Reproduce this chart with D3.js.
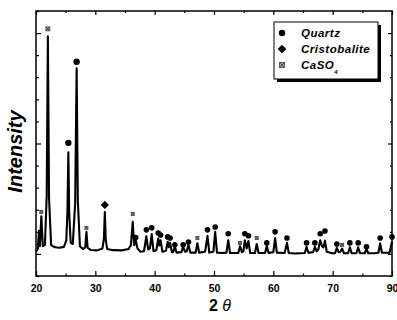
<!DOCTYPE html>
<html>
<head>
<meta charset="utf-8">
<script src="https://cdn.jsdelivr.net/npm/d3@7"></script>
<style>
  html, body { margin: 0; padding: 0; background: #fff; }
  svg { display: block; }
</style>
</head>
<body>
<div id="chart"></div>
<script>
// x axis (2 theta) ticks as printed on the figure
const xTicks = [20, 30, 40, 50, 60, 70, 80];
const xTickLabels = ['20', '30', '40', '50', '60', '70', '90'];
const xMinorTicks = [25, 35, 45, 55, 65, 75];
const yMajorTicks = [0, 500, 1000];
const yMinorTicks = [-100, 100, 200, 300, 400, 600, 700, 800, 900, 1100];

// diffraction pattern: [2theta, intensity]
const pattern = [
  [20.0, 12], [20.3, 22], [20.5, 105], [20.65, 35], [20.9, 170], [21.15, 35], [21.5, 40],
  [21.8, 260], [22.0, 985], [22.2, 250], [22.55, 40], [23.2, 30], [24.0, 28], [24.7, 32],
  [25.1, 60], [25.3, 190], [25.45, 460], [25.6, 180], [25.85, 50], [26.2, 45], [26.6, 230],
  [26.85, 840], [27.05, 240], [27.4, 35], [27.9, 22], [28.3, 30], [28.5, 100], [28.7, 28],
  [29.2, 18], [30.3, 16], [31.2, 25], [31.45, 70], [31.6, 190], [31.75, 65], [32.0, 22],
  [33.0, 17], [34.5, 16], [35.6, 22], [36.0, 40], [36.3, 145], [36.55, 40], [36.8, 62],
  [37.1, 25], [37.6, 10], [38.2, 12], [38.6, 80], [38.9, 20], [39.2, 25], [39.5, 90],
  [39.8, 12], [40.3, 18], [40.6, 70], [40.8, 38], [41.0, 62], [41.3, 10], [41.9, 14],
  [42.2, 55], [42.4, 30], [42.6, 50], [42.9, 8], [43.1, 8], [43.4, 32], [43.7, 6],
  [44.5, 8], [44.8, 32], [45.1, 10], [45.4, 12], [45.7, 42], [46.0, 6], [46.9, 6],
  [47.2, 48], [47.5, 6], [48.5, 10], [48.9, 82], [49.2, 6], [49.9, 10], [50.2, 100],
  [50.5, 6], [51.4, 4], [52.1, 6], [52.4, 62], [52.7, 4], [54.1, 4], [54.4, 35], [54.7, 8],
  [54.95, 12], [55.2, 62], [55.5, 25], [55.8, 58], [56.1, 4], [56.9, 4], [57.2, 45],
  [57.5, 4], [58.6, 4], [58.9, 36], [59.2, 4], [60.0, 8], [60.3, 72], [60.6, 6], [61.9, 4],
  [62.3, 50], [62.6, 4], [63.6, 2], [64.6, 3], [65.3, 4], [65.6, 32], [65.9, 5], [66.7, 8],
  [67.0, 32], [67.3, 12], [67.6, 22], [67.9, 62], [68.2, 35], [68.45, 30], [68.7, 60],
  [69.0, 10], [69.9, 3], [70.4, 3], [70.7, 27], [71.0, 8], [71.3, 10], [71.6, 24], [71.9, 3],
  [72.6, 3], [72.9, 30], [73.2, 3], [74.0, 3], [74.3, 30], [74.6, 3], [75.4, 3], [75.7, 22],
  [76.0, 3], [77.0, 3], [77.7, 5], [78.0, 48], [78.3, 5], [79.0, 5], [79.6, 6], [80.0, 55]
];

// phase markers: [2theta, height of the marker]
const quartzPeaks = [
  [25.45, 503], [26.85, 870], [36.8, 74], [38.6, 109], [39.5, 118], [40.6, 95], [41.0, 86],
  [42.2, 77], [42.6, 72], [43.4, 41], [44.8, 41], [45.7, 54], [48.9, 109], [50.2, 122],
  [52.4, 91], [55.2, 91], [55.8, 82], [58.9, 50], [60.3, 100], [62.3, 72], [65.6, 50],
  [67.0, 50], [67.9, 91], [68.7, 104], [70.7, 45], [72.9, 50], [74.3, 50], [75.7, 32],
  [78.0, 72], [80.0, 77]
];
const cristobalitePeaks = [[31.6, 222]];
const caso4Peaks = [
  [20.9, 190], [22.0, 1019], [28.5, 118], [36.3, 181], [47.2, 72], [54.4, 50], [57.2, 72],
  [71.6, 41]
];

const legendNames = ['Quartz', 'Cristobalite', 'CaSO'];

const width = 397, height = 320;
const margin = { top: 11, right: 5, bottom: 44, left: 36 };
const innerW = width - margin.left - margin.right;
const innerH = height - margin.top - margin.bottom;

const svg = d3.select('#chart').append('svg')
  .attr('width', width)
  .attr('height', height)
  .style('font-family', '"Liberation Sans", Arial, sans-serif');

const g = svg.append('g').attr('transform', `translate(${margin.left},${margin.top})`);

const x = d3.scaleLinear().domain([20, 80]).range([0, innerW]);
const y = d3.scaleLinear().domain([-100, 1100]).range([innerH, 0]);

// ticks pointing inward on all four sides
function tickAxis(axisFn, scale, values, size) {
  return axisFn(scale).tickValues(values).tickSize(-size).tickFormat('');
}

const bottomMajor = g.append('g')
  .attr('transform', `translate(0,${innerH})`)
  .call(d3.axisBottom(x).tickValues(xTicks).tickSize(-5).tickPadding(9)
    .tickFormat((d, i) => xTickLabels[i]));
bottomMajor.selectAll('text')
  .attr('font-size', '10.5px')
  .attr('font-weight', 'bold')
  .attr('fill', '#000');

g.append('g').attr('transform', `translate(0,${innerH})`)
  .call(tickAxis(d3.axisBottom, x, xMinorTicks, 2.5));
g.append('g').call(tickAxis(d3.axisTop, x, xTicks, 4));
g.append('g').call(tickAxis(d3.axisTop, x, xMinorTicks, 2));

g.append('g').call(tickAxis(d3.axisLeft, y, yMajorTicks, 5));
g.append('g').call(tickAxis(d3.axisLeft, y, yMinorTicks, 3));
g.append('g').attr('transform', `translate(${innerW},0)`)
  .call(tickAxis(d3.axisRight, y, yMajorTicks, 4));
g.append('g').attr('transform', `translate(${innerW},0)`)
  .call(tickAxis(d3.axisRight, y, yMinorTicks, 2));

g.selectAll('.domain').remove();
g.selectAll('.tick line').attr('stroke', '#000').attr('stroke-width', 1.2);

// frame
g.append('rect')
  .attr('width', innerW)
  .attr('height', innerH)
  .attr('fill', 'none')
  .attr('stroke', '#000')
  .attr('stroke-width', 1.5);

// pattern
const line = d3.line()
  .x(d => x(d[0]))
  .y(d => y(d[1]));

g.append('path')
  .datum(pattern)
  .attr('d', line)
  .attr('fill', 'none')
  .attr('stroke', '#000')
  .attr('stroke-width', 2.1)
  .attr('stroke-linejoin', 'round');

// markers
g.selectAll('.quartz')
  .data(quartzPeaks)
  .enter()
  .append('circle')
  .attr('class', 'quartz')
  .attr('cx', d => x(d[0]))
  .attr('cy', d => y(d[1]))
  .attr('r', d => d[1] > 400 ? 3.2 : 2.8)
  .attr('fill', '#000');

// diamond: a square turned 45 degrees
g.selectAll('.cristo')
  .data(cristobalitePeaks)
  .enter()
  .append('path')
  .attr('class', 'cristo')
  .attr('transform', d => `translate(${x(d[0])},${y(d[1])}) rotate(45)`)
  .attr('d', d3.symbol(d3.symbolSquare, 34))
  .attr('fill', '#000');

function drawCaso4(sel, s) {
  sel.append('rect')
    .attr('x', -s / 2).attr('y', -s / 2)
    .attr('width', s).attr('height', s)
    .attr('fill', '#aaa')
    .attr('stroke', '#444')
    .attr('stroke-width', 0.8);
  sel.append('path')
    .attr('d', `M${-s / 2},${-s / 2}L${s / 2},${s / 2}M${s / 2},${-s / 2}L${-s / 2},${s / 2}`)
    .attr('stroke', '#333')
    .attr('stroke-width', 0.8);
}

g.selectAll('.caso4')
  .data(caso4Peaks)
  .enter()
  .append('g')
  .attr('class', 'caso4')
  .attr('transform', d => `translate(${x(d[0])},${y(d[1])})`)
  .each(function (d) { drawCaso4(d3.select(this), d[1] > 900 ? 4 : 3); });

// legend
const legend = svg.append('g').attr('transform', 'translate(274,22)');
legend.append('rect')
  .attr('x', 3).attr('y', 3)
  .attr('width', 104).attr('height', 57)
  .attr('fill', '#000');
legend.append('rect')
  .attr('width', 104).attr('height', 57)
  .attr('fill', '#fff')
  .attr('stroke', '#000')
  .attr('stroke-width', 1);

const rowY = [11, 27, 43];
legend.append('circle').attr('cx', 8).attr('cy', rowY[0]).attr('r', 3.2).attr('fill', '#000');
legend.append('path')
  .attr('transform', `translate(8,${rowY[1]}) rotate(45)`)
  .attr('d', d3.symbol(d3.symbolSquare, 38))
  .attr('fill', '#000');
drawCaso4(legend.append('g').attr('transform', `translate(8,${rowY[2]})`), 5);

legendNames.forEach((name, i) => {
  const t = legend.append('text')
    .attr('x', 27)
    .attr('y', rowY[i] + 4)
    .attr('font-size', '11.5px')
    .attr('font-weight', 'bold')
    .attr('font-style', 'italic')
    .attr('letter-spacing', '0.5px')
    .text(name);
  if (i === 2) {
    t.append('tspan')
      .attr('dy', 5)
      .attr('font-size', '6px')
      .text('4');
  }
});

// axis titles
svg.append('text')
  .attr('transform', `translate(22,${margin.top + innerH / 2 + 8}) rotate(-90)`)
  .attr('text-anchor', 'middle')
  .attr('font-size', '20px')
  .attr('font-weight', 'bold')
  .attr('font-style', 'italic')
  .text('Intensity');

const xTitle = svg.append('text')
  .attr('x', margin.left + innerW / 2 + 6)
  .attr('y', 311)
  .attr('text-anchor', 'middle')
  .attr('font-size', '16px')
  .attr('font-weight', 'bold');
xTitle.append('tspan').text('2 ');
xTitle.append('tspan').attr('font-style', 'italic').attr('font-weight', 'normal').text('θ');
</script>
</body>
</html>
